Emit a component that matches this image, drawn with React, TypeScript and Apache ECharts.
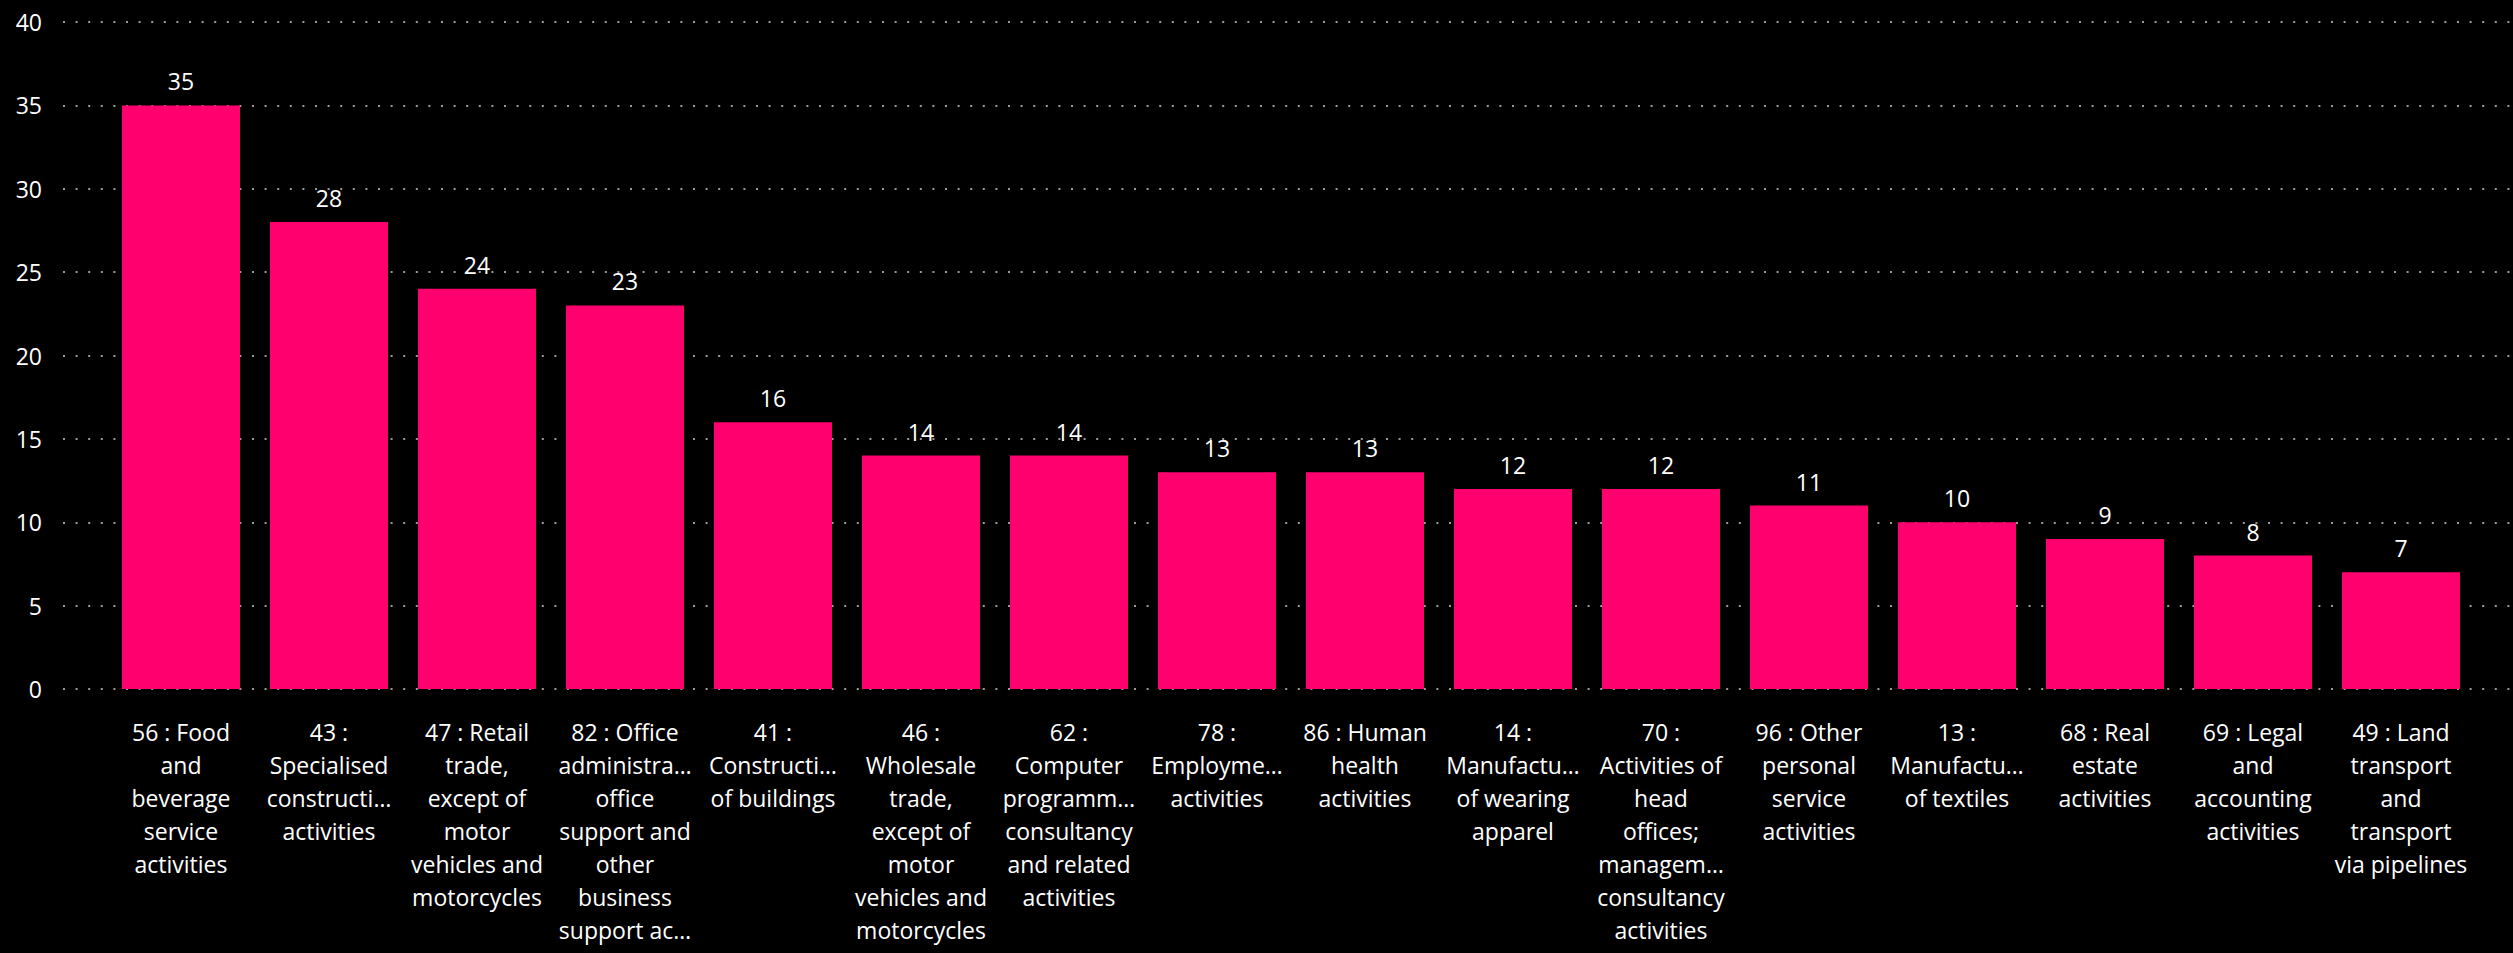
import React, { useEffect, useRef } from "react";
import * as echarts from "echarts";

const categories: string[] = [
  "56 : Food\nand\nbeverage\nservice\nactivities",
  "43 :\nSpecialised\nconstructi…\nactivities",
  "47 : Retail\ntrade,\nexcept of\nmotor\nvehicles and\nmotorcycles",
  "82 : Office\nadministra…\noffice\nsupport and\nother\nbusiness\nsupport ac…",
  "41 :\nConstructi…\nof buildings",
  "46 :\nWholesale\ntrade,\nexcept of\nmotor\nvehicles and\nmotorcycles",
  "62 :\nComputer\nprogramm…\nconsultancy\nand related\nactivities",
  "78 :\nEmployme…\nactivities",
  "86 : Human\nhealth\nactivities",
  "14 :\nManufactu…\nof wearing\napparel",
  "70 :\nActivities of\nhead\noffices;\nmanagem…\nconsultancy\nactivities",
  "96 : Other\npersonal\nservice\nactivities",
  "13 :\nManufactu…\nof textiles",
  "68 : Real\nestate\nactivities",
  "69 : Legal\nand\naccounting\nactivities",
  "49 : Land\ntransport\nand\ntransport\nvia pipelines",
];

const values: number[] = [35, 28, 24, 23, 16, 14, 14, 13, 13, 12, 12, 11, 10, 9, 8, 7];

const yTicks = { min: 0, max: 40, interval: 5 };

const FONT = "'Segoe UI', 'Open Sans', sans-serif";
const TEXT = "#ffffff";
const BAR = "#FF006E";

export default function App() {
  const ref = useRef<HTMLDivElement>(null);
  useEffect(() => {
    if (!ref.current) return;
    const chart = echarts.init(ref.current, null, { renderer: "svg" });
    chart.setOption({
      animation: false,
      backgroundColor: "#000000",
      textStyle: { fontFamily: FONT },
      grid: [
        { left: 63, right: 0, top: 22, height: 667 },
        { left: 107, width: 2368, top: 22, height: 667 },
      ],
      xAxis: [
        { type: "category", gridIndex: 0, data: [""], show: false },
        {
          type: "category",
          gridIndex: 1,
          data: categories,
          axisLine: { show: false },
          axisTick: { show: false },
          axisLabel: {
            interval: 0,
            color: TEXT,
            fontFamily: FONT,
            fontSize: 23,
            lineHeight: 33,
            margin: 26,
            align: "center",
          },
        },
      ],
      yAxis: [
        {
          type: "value",
          gridIndex: 0,
          min: yTicks.min,
          max: yTicks.max,
          interval: yTicks.interval,
          axisLine: { show: false },
          axisTick: { show: false },
          axisLabel: { color: TEXT, fontFamily: FONT, fontSize: 23, margin: 21 },
          splitLine: {
            show: true,
            lineStyle: { color: "#9a9a9a", width: 2, type: [2, 10.6] },
          },
        },
        {
          type: "value",
          gridIndex: 1,
          min: yTicks.min,
          max: yTicks.max,
          interval: yTicks.interval,
          show: false,
          splitLine: { show: false },
        },
      ],
      series: [
        {
          type: "bar",
          xAxisIndex: 1,
          yAxisIndex: 1,
          data: values,
          barWidth: 118,
          itemStyle: { color: BAR },
          label: {
            show: true,
            position: "top",
            distance: 12,
            color: TEXT,
            fontFamily: FONT,
            fontSize: 23,
            lineHeight: 24,
          },
        },
      ],
    });
    return () => chart.dispose();
  }, []);
  return (
    <div
      ref={ref}
      style={{ position: "absolute", left: 0, top: 0, width: 2513, height: 953 }}
    />
  );
}
